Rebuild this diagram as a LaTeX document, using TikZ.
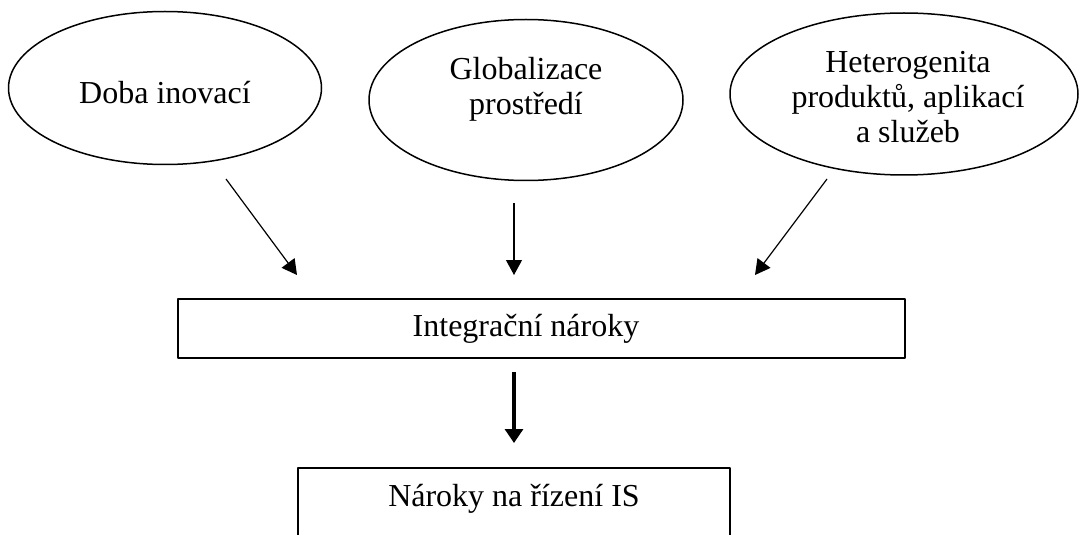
\documentclass[tikz,border=0pt]{standalone}
\usepackage{fontspec}
\setmainfont{Liberation Serif}
\usetikzlibrary{shapes.geometric,arrows.meta}
\begin{document}
\begin{tikzpicture}[x=0.5pt,y=-0.5pt,line join=round]
\tikzset{
  oval/.style={draw,ellipse,line width=0.75pt,inner sep=0pt},
  frame/.style={draw,rectangle,line width=1pt,inner sep=0pt},
  txt/.style={font=\fontsize{16pt}{17.5pt}\selectfont,align=center,inner sep=0pt},
  feed/.style={draw,line width=0.6pt,-{Triangle[length=7.5pt,width=8pt]}},
  main feed/.style={draw,line width=1.6pt,-{Triangle[length=7pt,width=9pt]}}
}
\useasboundingbox (0,0) rectangle (1082,535);

% three causes
\node[oval,minimum width=156.5pt,minimum height=76.5pt] (doba) at (165,88) {};
\node[oval,minimum width=157pt,minimum height=80.5pt] (glob) at (526,100) {};
\node[oval,minimum width=174pt,minimum height=81pt] (hetero) at (904,94) {};

\node[txt] (dobatxt) at (165,93) {Doba inovací};
\node[txt] (globtxt) at (526,89) {Globalizace\\prostředí};
\node[txt] (heterotxt) at (908,97) {Heterogenita\\produktů, aplikací\\a služeb};

% the two boxes (lower one runs off the page)
\node[frame,minimum width=363.5pt,minimum height=29.5pt] (integ) at (541.5,328.5) {};
\node[frame,minimum width=216pt,minimum height=46pt] (rizeni) at (514,514) {};

\node[txt] (integtxt) at (526,329) {Integrační nároky};
\node[txt] (rizenitxt) at (514,499) {Nároky na řízení IS};

% free ends of the arrows
\coordinate (d1) at (226,179);
\coordinate (d2) at (297,275);
\coordinate (g1) at (514,203);
\coordinate (g2) at (514,275);
\coordinate (h1) at (827,179);
\coordinate (h2) at (755,275);
\coordinate (i1) at (514,372);
\coordinate (i2) at (514,443);

\draw[feed] (d1) -- (d2);
\draw[feed] (g1) -- (g2);
\draw[feed] (h1) -- (h2);
\draw[main feed] (i1) -- (i2);

\end{tikzpicture}
\end{document}
